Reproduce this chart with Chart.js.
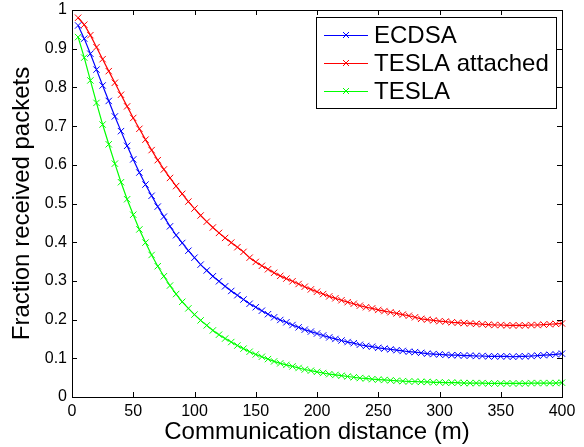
<!DOCTYPE html>
<html>
<head>
<meta charset="utf-8">
<script src="https://cdn.jsdelivr.net/npm/chart.js@4.4.1/dist/chart.umd.min.js"></script>
<style>
  html, body { margin: 0; padding: 0; background: #fff; }
</style>
</head>
<body>
<canvas id="graphCanvas" width="584" height="447"></canvas>
<script>
/* ---------- DATA ---------- */
const distance = [
  5, 10, 15, 20, 25, 30, 35, 40, 45, 50, 55, 60, 65, 70, 75, 80, 85, 90, 95, 100,
  105, 110, 115, 120, 125, 130, 135, 140, 145, 150, 155, 160, 165, 170, 175, 180, 185, 190, 195, 200,
  205, 210, 215, 220, 225, 230, 235, 240, 245, 250, 255, 260, 265, 270, 275, 280, 285, 290, 295, 300,
  305, 310, 315, 320, 325, 330, 335, 340, 345, 350, 355, 360, 365, 370, 375, 380, 385, 390, 395, 400
];

const ecdsa = [
  0.960, 0.926, 0.887, 0.846, 0.805, 0.765, 0.725, 0.687, 0.649, 0.614,
  0.580, 0.549, 0.520, 0.492, 0.466, 0.441, 0.418, 0.398, 0.378, 0.360,
  0.342, 0.327, 0.312, 0.299, 0.286, 0.274, 0.263, 0.252, 0.241, 0.232,
  0.223, 0.214, 0.206, 0.199, 0.193, 0.186, 0.180, 0.174, 0.169, 0.164,
  0.159, 0.154, 0.150, 0.146, 0.142, 0.139, 0.135, 0.132, 0.130, 0.127,
  0.125, 0.123, 0.121, 0.119, 0.117, 0.116, 0.114, 0.112, 0.111, 0.110,
  0.109, 0.108, 0.108, 0.107, 0.107, 0.106, 0.106, 0.105, 0.105, 0.105,
  0.105, 0.104, 0.105, 0.105, 0.106, 0.107, 0.108, 0.109, 0.110, 0.112
];

const teslaAttached = [
  0.980, 0.962, 0.935, 0.904, 0.873, 0.842, 0.812, 0.781, 0.751, 0.721,
  0.693, 0.665, 0.638, 0.612, 0.588, 0.566, 0.545, 0.525, 0.505, 0.487,
  0.469, 0.453, 0.438, 0.424, 0.411, 0.399, 0.387, 0.375, 0.360, 0.349,
  0.339, 0.330, 0.321, 0.313, 0.306, 0.299, 0.292, 0.285, 0.278, 0.272,
  0.266, 0.260, 0.255, 0.250, 0.245, 0.241, 0.236, 0.232, 0.229, 0.225,
  0.222, 0.219, 0.216, 0.213, 0.210, 0.206, 0.202, 0.200, 0.198, 0.196,
  0.195, 0.193, 0.192, 0.191, 0.190, 0.189, 0.188, 0.187, 0.186, 0.186,
  0.185, 0.185, 0.185, 0.185, 0.186, 0.186, 0.187, 0.188, 0.189, 0.190
];

const tesla = [
  0.930, 0.877, 0.818, 0.760, 0.704, 0.653, 0.603, 0.555, 0.511, 0.471,
  0.433, 0.399, 0.367, 0.338, 0.312, 0.288, 0.266, 0.246, 0.229, 0.213,
  0.198, 0.185, 0.172, 0.161, 0.151, 0.142, 0.133, 0.125, 0.117, 0.110,
  0.104, 0.098, 0.092, 0.087, 0.083, 0.079, 0.075, 0.071, 0.068, 0.065,
  0.062, 0.059, 0.057, 0.055, 0.053, 0.051, 0.049, 0.048, 0.046, 0.045,
  0.044, 0.043, 0.042, 0.041, 0.040, 0.040, 0.039, 0.039, 0.038, 0.038,
  0.037, 0.037, 0.037, 0.036, 0.036, 0.036, 0.036, 0.035, 0.035, 0.035,
  0.035, 0.035, 0.035, 0.035, 0.036, 0.036, 0.036, 0.036, 0.036, 0.037
];

const seriesNames = ["ECDSA", "TESLA attached", "TESLA"];
const seriesColors = ["#0000ff", "#ff0000", "#00ff00"];

const FONT = "'Liberation Sans', Arial, Helvetica, sans-serif";

/* ---------- HELPERS ---------- */
function toPoints(values) {
  return distance.map((d, i) => ({ x: d, y: values[i] }));
}

function makeDataset(i, values) {
  return {
    label: seriesNames[i],
    data: toPoints(values),
    borderColor: seriesColors[i],
    backgroundColor: seriesColors[i],
    borderWidth: 1.2,
    pointStyle: "crossRot",
    pointRadius: 4.5,
    pointBorderWidth: 1,
    tension: 0,
    clip: false
  };
}

/* ---------- MATLAB STYLE BOX + INWARD TICKS ---------- */
const framePlugin = {
  id: "frame",
  afterDatasetsDraw(c) {
    const { ctx, chartArea: a } = c;
    const xs = c.scales.x, ys = c.scales.y;
    const T = 5;
    ctx.save();
    ctx.strokeStyle = "#000";
    ctx.lineWidth = 1;
    ctx.beginPath();
    xs.ticks.forEach(t => {
      const px = Math.round(xs.getPixelForValue(t.value)) + 0.5;
      ctx.moveTo(px, a.bottom); ctx.lineTo(px, a.bottom - T);
      ctx.moveTo(px, a.top); ctx.lineTo(px, a.top + T);
    });
    ys.ticks.forEach(t => {
      const py = Math.round(ys.getPixelForValue(t.value)) + 0.5;
      ctx.moveTo(a.left, py); ctx.lineTo(a.left + T, py);
      ctx.moveTo(a.right, py); ctx.lineTo(a.right - T, py);
    });
    ctx.stroke();
    ctx.strokeRect(Math.round(a.left) + 0.5, Math.round(a.top) + 0.5,
                   Math.round(a.right - a.left), Math.round(a.bottom - a.top));
    ctx.restore();
  }
};

/* ---------- LEGEND BOX ---------- */
const legendPlugin = {
  id: "boxLegend",
  afterDraw(c) {
    const ctx = c.ctx;
    const bx = 316, by = 17, bw = 240, bh = 91;
    ctx.save();
    ctx.fillStyle = "#fff";
    ctx.fillRect(bx, by, bw, bh);
    ctx.strokeStyle = "#000";
    ctx.lineWidth = 1;
    ctx.strokeRect(bx + 0.5, by + 0.5, bw, bh);
    ctx.font = "24px " + FONT;
    ctx.textBaseline = "middle";
    c.data.datasets.forEach((ds, i) => {
      const ry = 35 + i * 28;
      ctx.strokeStyle = ds.borderColor;
      ctx.beginPath();
      ctx.moveTo(324, ry + 0.5); ctx.lineTo(368, ry + 0.5);
      ctx.stroke();
      const r = 3;
      ctx.beginPath();
      ctx.moveTo(346 - r, ry - r); ctx.lineTo(346 + r, ry + r);
      ctx.moveTo(346 - r, ry + r); ctx.lineTo(346 + r, ry - r);
      ctx.stroke();
      ctx.fillStyle = "#000";
      ctx.fillText(ds.label, 374, ry + 1);
    });
    ctx.restore();
  }
};

/* ---------- INIT GRAPH ---------- */
function initGraph() {
  const ctx = document.getElementById("graphCanvas").getContext("2d");

  return new Chart(ctx, {
    type: "line",
    data: {
      datasets: [
        makeDataset(0, ecdsa),
        makeDataset(1, teslaAttached),
        makeDataset(2, tesla)
      ]
    },
    options: {
      responsive: false,
      animation: false,
      layout: { padding: { top: 10, right: 22, left: 0, bottom: 0 } },
      plugins: { legend: { display: false }, tooltip: { enabled: false } },
      scales: {
        x: {
          type: "linear",
          min: 0,
          max: 400,
          border: { display: false },
          grid: { display: false, drawTicks: false },
          ticks: { stepSize: 50, color: "#000", padding: 5, maxRotation: 0,
                   font: { family: FONT, size: 16 } },
          title: { display: true, text: "Communication distance (m)", color: "#000",
                   padding: { top: 0, bottom: 0 }, font: { family: FONT, size: 24 } },
          afterFit(s) { s.height = 50; s.paddingLeft = 0; s.paddingRight = 0; }
        },
        y: {
          min: 0,
          max: 1,
          border: { display: false },
          grid: { display: false, drawTicks: false },
          ticks: {
            stepSize: 0.1, color: "#000", padding: 5,
            font: { family: FONT, size: 16 },
            callback: v => String(Number(v.toFixed(1)))
          },
          title: { display: true, text: "Fraction received packets", color: "#000",
                   padding: { top: 8, bottom: 8 }, font: { family: FONT, size: 24 } },
          afterFit(s) { s.width = 72; s.paddingTop = 0; s.paddingBottom = 0; }
        }
      }
    },
    plugins: [framePlugin, legendPlugin]
  });
}

/* ---------- START ---------- */
initGraph();
</script>
</body>
</html>
